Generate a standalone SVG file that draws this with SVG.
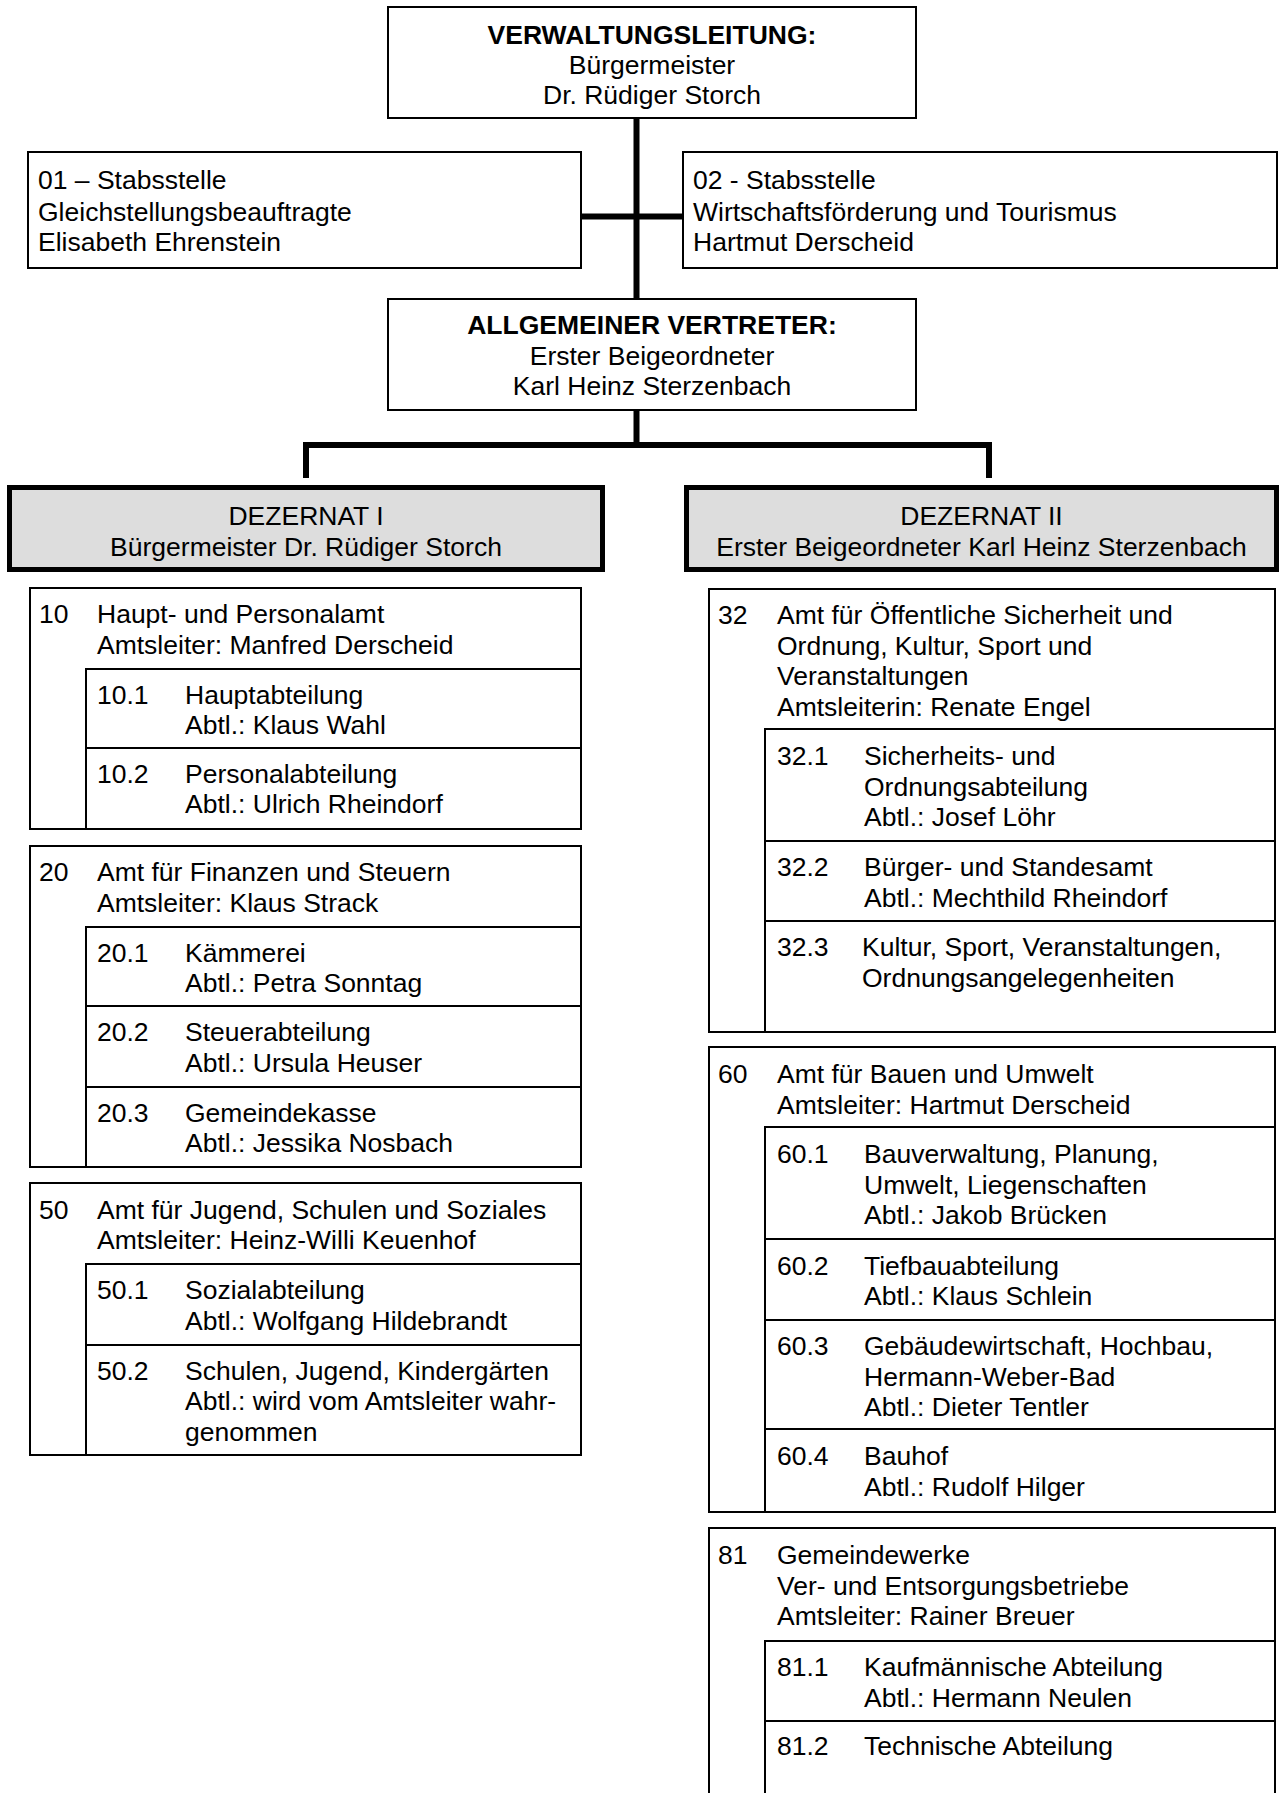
<svg xmlns="http://www.w3.org/2000/svg" width="1281" height="1793" viewBox="0 0 1281 1793">
<style>
.box{fill:#fff;stroke:#000;stroke-width:2}
.row{fill:none;stroke:#000;stroke-width:2}
.dz{fill:#dddddd;stroke:#000;stroke-width:5}
.t{font-family:"Liberation Sans",Arial,sans-serif;font-size:26.5px;fill:#000}
.c{text-anchor:middle}
.b{font-weight:bold}
.conn{stroke:#000;stroke-width:6;fill:none}
</style>
<rect width="1281" height="1793" fill="#fff"/>
<g id="connectors">
<line class="conn" x1="636.5" y1="118" x2="636.5" y2="299"/>
<line class="conn" x1="581" y1="216.5" x2="683" y2="216.5"/>
<line class="conn" x1="636.5" y1="411" x2="636.5" y2="445"/>
<line class="conn" x1="303" y1="445" x2="992" y2="445"/>
<line class="conn" x1="306" y1="445" x2="306" y2="478"/>
<line class="conn" x1="989" y1="445" x2="989" y2="478"/>
</g>
<g id="verwaltungsleitung">
<rect class="box" x="388" y="7" width="528" height="111"/>
<text class="t c b" x="652" y="44">VERWALTUNGSLEITUNG:</text>
<text class="t c" x="652" y="74">Bürgermeister</text>
<text class="t c" x="652" y="104">Dr. Rüdiger Storch</text>
</g>
<g id="stabsstelle01">
<rect class="box" x="28" y="152" width="553" height="116"/>
<text class="t" x="38" y="189">01 – Stabsstelle</text>
<text class="t" x="38" y="220.5">Gleichstellungsbeauftragte</text>
<text class="t" x="38" y="251">Elisabeth Ehrenstein</text>
</g>
<g id="stabsstelle02">
<rect class="box" x="683" y="152" width="594" height="116"/>
<text class="t" x="693" y="189">02 - Stabsstelle</text>
<text class="t" x="693" y="220.5">Wirtschaftsförderung und Tourismus</text>
<text class="t" x="693" y="251">Hartmut Derscheid</text>
</g>
<g id="allgemeiner-vertreter">
<rect class="box" x="388" y="299" width="528" height="111"/>
<text class="t c b" x="652" y="334">ALLGEMEINER VERTRETER:</text>
<text class="t c" x="652" y="365">Erster Beigeordneter</text>
<text class="t c" x="652" y="395">Karl Heinz Sterzenbach</text>
</g>
<g id="dezernat1">
<rect class="dz" x="9.5" y="487.5" width="593" height="82"/>
<text class="t c" x="306" y="524.5">DEZERNAT I</text>
<text class="t c" x="306" y="555.5">Bürgermeister Dr. Rüdiger Storch</text>
</g>
<g id="dezernat2">
<rect class="dz" x="686.5" y="487.5" width="590" height="82"/>
<text class="t c" x="981.5" y="524.5">DEZERNAT II</text>
<text class="t c" x="981.5" y="555.5">Erster Beigeordneter Karl Heinz Sterzenbach</text>
</g>
<g id="amt10">
<rect class="box" x="30" y="588" width="551" height="241"/>
<text class="t" x="39" y="623">10</text>
<text class="t" x="97" y="623">Haupt- und Personalamt</text>
<text class="t" x="97" y="653.5">Amtsleiter: Manfred Derscheid</text>
<g id="abt10-1">
<rect class="row" x="86" y="669" width="495" height="79"/>
<text class="t" x="97" y="703.5">10.1</text>
<text class="t" x="185" y="703.5">Hauptabteilung</text>
<text class="t" x="185" y="734">Abtl.: Klaus Wahl</text>
</g>
<g id="abt10-2">
<rect class="row" x="86" y="748" width="495" height="81"/>
<text class="t" x="97" y="782.5">10.2</text>
<text class="t" x="185" y="782.5">Personalabteilung</text>
<text class="t" x="185" y="813">Abtl.: Ulrich Rheindorf</text>
</g>
</g>
<g id="amt20">
<rect class="box" x="30" y="846" width="551" height="321"/>
<text class="t" x="39" y="881">20</text>
<text class="t" x="97" y="881">Amt für Finanzen und Steuern</text>
<text class="t" x="97" y="911.5">Amtsleiter: Klaus Strack</text>
<g id="abt20-1">
<rect class="row" x="86" y="927" width="495" height="79"/>
<text class="t" x="97" y="961.5">20.1</text>
<text class="t" x="185" y="961.5">Kämmerei</text>
<text class="t" x="185" y="992">Abtl.: Petra Sonntag</text>
</g>
<g id="abt20-2">
<rect class="row" x="86" y="1006" width="495" height="81"/>
<text class="t" x="97" y="1041">20.2</text>
<text class="t" x="185" y="1041">Steuerabteilung</text>
<text class="t" x="185" y="1071.5">Abtl.: Ursula Heuser</text>
</g>
<g id="abt20-3">
<rect class="row" x="86" y="1087" width="495" height="80"/>
<text class="t" x="97" y="1121.5">20.3</text>
<text class="t" x="185" y="1121.5">Gemeindekasse</text>
<text class="t" x="185" y="1152">Abtl.: Jessika Nosbach</text>
</g>
</g>
<g id="amt50">
<rect class="box" x="30" y="1183" width="551" height="272"/>
<text class="t" x="39" y="1218.5">50</text>
<text class="t" x="97" y="1218.5">Amt für Jugend, Schulen und Soziales</text>
<text class="t" x="97" y="1249">Amtsleiter: Heinz-Willi Keuenhof</text>
<g id="abt50-1">
<rect class="row" x="86" y="1264" width="495" height="81"/>
<text class="t" x="97" y="1299">50.1</text>
<text class="t" x="185" y="1299">Sozialabteilung</text>
<text class="t" x="185" y="1329.5">Abtl.: Wolfgang Hildebrandt</text>
</g>
<g id="abt50-2">
<rect class="row" x="86" y="1345" width="495" height="110"/>
<text class="t" x="97" y="1379.5">50.2</text>
<text class="t" x="185" y="1379.5">Schulen, Jugend, Kindergärten</text>
<text class="t" x="185" y="1410">Abtl.: wird vom Amtsleiter wahr-</text>
<text class="t" x="185" y="1440.5">genommen</text>
</g>
</g>
<g id="amt32">
<rect class="box" x="709" y="589" width="566" height="443"/>
<text class="t" x="718" y="624">32</text>
<text class="t" x="777" y="624">Amt für Öffentliche Sicherheit und</text>
<text class="t" x="777" y="654.5">Ordnung, Kultur, Sport und</text>
<text class="t" x="777" y="685">Veranstaltungen</text>
<text class="t" x="777" y="715.5">Amtsleiterin: Renate Engel</text>
<g id="abt32-1">
<rect class="row" x="765" y="729" width="510" height="112"/>
<text class="t" x="777" y="765">32.1</text>
<text class="t" x="864" y="765">Sicherheits- und</text>
<text class="t" x="864" y="795.5">Ordnungsabteilung</text>
<text class="t" x="864" y="826">Abtl.: Josef Löhr</text>
</g>
<g id="abt32-2">
<rect class="row" x="765" y="841" width="510" height="80"/>
<text class="t" x="777" y="876">32.2</text>
<text class="t" x="864" y="876">Bürger- und Standesamt</text>
<text class="t" x="864" y="906.5">Abtl.: Mechthild Rheindorf</text>
</g>
<g id="abt32-3">
<rect class="row" x="765" y="921" width="510" height="111"/>
<text class="t" x="777" y="956">32.3</text>
<text class="t" x="862" y="956">Kultur, Sport, Veranstaltungen,</text>
<text class="t" x="862" y="986.5">Ordnungsangelegenheiten</text>
</g>
</g>
<g id="amt60">
<rect class="box" x="709" y="1047" width="566" height="465"/>
<text class="t" x="718" y="1083">60</text>
<text class="t" x="777" y="1083">Amt für Bauen und Umwelt</text>
<text class="t" x="777" y="1113.5">Amtsleiter: Hartmut Derscheid</text>
<g id="abt60-1">
<rect class="row" x="765" y="1127" width="510" height="112"/>
<text class="t" x="777" y="1163">60.1</text>
<text class="t" x="864" y="1163">Bauverwaltung, Planung,</text>
<text class="t" x="864" y="1193.5">Umwelt, Liegenschaften</text>
<text class="t" x="864" y="1224">Abtl.: Jakob Brücken</text>
</g>
<g id="abt60-2">
<rect class="row" x="765" y="1239" width="510" height="81"/>
<text class="t" x="777" y="1274.5">60.2</text>
<text class="t" x="864" y="1274.5">Tiefbauabteilung</text>
<text class="t" x="864" y="1305">Abtl.: Klaus Schlein</text>
</g>
<g id="abt60-3">
<rect class="row" x="765" y="1320" width="510" height="109"/>
<text class="t" x="777" y="1355">60.3</text>
<text class="t" x="864" y="1355">Gebäudewirtschaft, Hochbau,</text>
<text class="t" x="864" y="1385.5">Hermann-Weber-Bad</text>
<text class="t" x="864" y="1416">Abtl.: Dieter Tentler</text>
</g>
<g id="abt60-4">
<rect class="row" x="765" y="1429" width="510" height="83"/>
<text class="t" x="777" y="1465">60.4</text>
<text class="t" x="864" y="1465">Bauhof</text>
<text class="t" x="864" y="1495.5">Abtl.: Rudolf Hilger</text>
</g>
</g>
<g id="amt81">
<rect class="box" x="709" y="1528" width="566" height="290"/>
<text class="t" x="718" y="1564">81</text>
<text class="t" x="777" y="1564">Gemeindewerke</text>
<text class="t" x="777" y="1594.5">Ver- und Entsorgungsbetriebe</text>
<text class="t" x="777" y="1625">Amtsleiter: Rainer Breuer</text>
<g id="abt81-1">
<rect class="row" x="765" y="1641" width="510" height="80"/>
<text class="t" x="777" y="1676">81.1</text>
<text class="t" x="864" y="1676">Kaufmännische Abteilung</text>
<text class="t" x="864" y="1706.5">Abtl.: Hermann Neulen</text>
</g>
<g id="abt81-2">
<rect class="row" x="765" y="1721" width="510" height="97"/>
<text class="t" x="777" y="1755">81.2</text>
<text class="t" x="864" y="1755">Technische Abteilung</text>
</g>
</g>
</svg>
